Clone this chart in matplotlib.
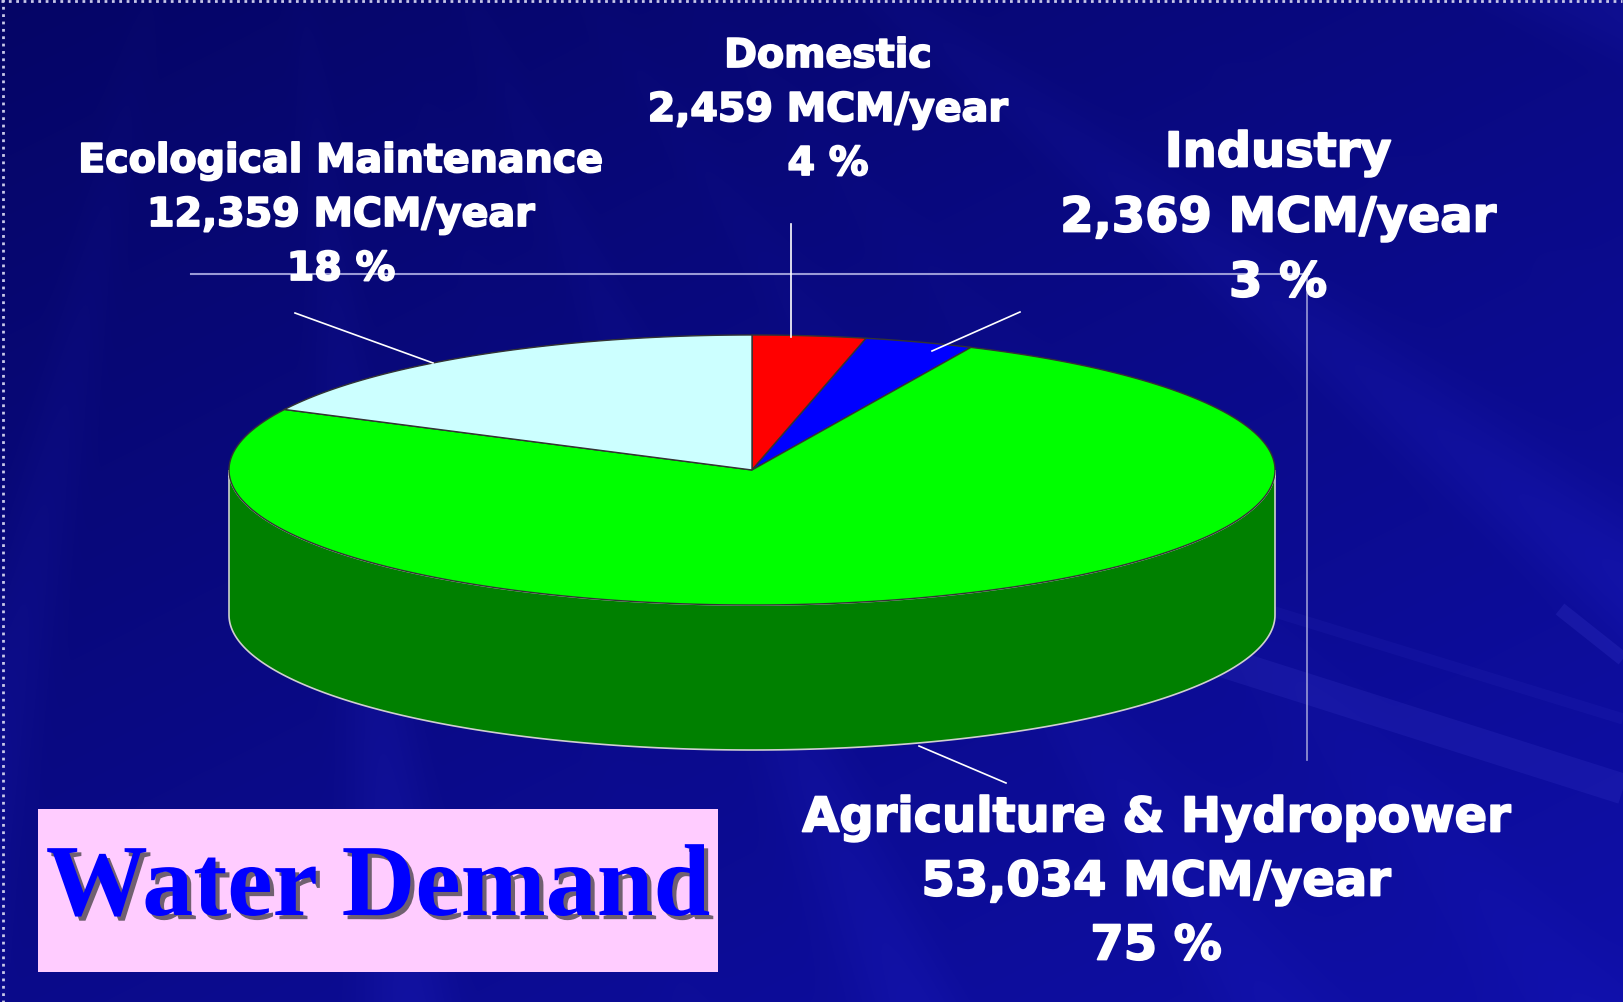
import numpy as np
import matplotlib.pyplot as plt
from matplotlib.patches import Polygon, Rectangle
import matplotlib.patheffects as pe

# water demand by sector, MCM/year (slices run clockwise from 12 o'clock)
categories = ['Domestic', 'Industry', 'Agriculture & Hydropower', 'Ecological Maintenance']
volumes = [2459, 2369, 53034, 12359]
percent_labels = ['4 %', '3 %', '75 %', '18 %']
top_colors = ['#FF0000', '#0000FF', '#00FF00', '#CCFFFF']
side_colors = ['#990000', '#000099', '#008000', '#80A0A0']
title = 'Water Demand'

W, H = 1623, 1003


def background(ax):
    '''
    Dark blue slide background with faint rays
    '''
    yy, xx = np.mgrid[0:H, 0:W].astype(float)
    t = 0.45 * xx / W + 0.55 * yy / H
    ang = np.arctan2(yy + 500, xx - 250)
    rays = np.sin(ang * 31) * np.sin(ang * 9 + 1.3)
    rays = np.clip(rays, 0, None) ** 2
    img = np.zeros((H, W, 3))
    img[..., 0] = 0.02 + 0.04 * t + 0.04 * rays * t
    img[..., 1] = 0.02 + 0.04 * t + 0.04 * rays * t
    img[..., 2] = 0.40 + 0.26 * t + 0.10 * rays * t
    ax.imshow(np.clip(img, 0, 1), extent=(0, W, H, 0), aspect='auto', zorder=0)
    # a few brighter streaks bottom right
    for (x0, y0, x1, y1, w, a) in [(1150, 640, 1623, 790, 22, 0.10),
                                   (1560, 610, 1623, 660, 10, 0.12),
                                   (1200, 590, 1623, 720, 8, 0.06)]:
        ax.plot([x0, x1], [y0, y1], color='#6a6aff', lw=w, alpha=a,
                solid_capstyle='butt', zorder=1)
    # dotted frame of the slide
    ax.plot([1, W - 1], [2, 2], color='#c8c8e8', lw=2, ls=':', zorder=1)
    ax.plot([3, 3], [0, H], color='#c8c8e8', lw=2, ls=':', zorder=1)
    # template guide lines
    ax.plot([191, 1309], [275, 275], color='#9a9ad6', lw=1.5, zorder=1)
    ax.plot([1307, 1307], [275, 761], color='#9a9ad6', lw=1.2, zorder=1)


def pie3d(ax, cx, cy, rx, ry, depth):
    '''
    Tilted pie: side wall first, then the top slices
    '''
    fr = np.cumsum([0] + volumes) / np.sum(volumes)
    a_edges = 90 - 360 * fr

    def pts(a0, a1, dy=0):
        a = np.radians(np.linspace(a0, a1, 200))
        return np.column_stack([cx + rx * np.cos(a), cy - ry * np.sin(a) + dy])

    # front wall, visible between -180 and 0 degrees
    for i in range(len(volumes)):
        hi, lo = a_edges[i], a_edges[i + 1]
        s0, s1 = max(lo, -180), min(hi, 0)
        if s1 > s0:
            top = pts(s1, s0)
            bot = pts(s0, s1, depth)
            ax.add_patch(Polygon(np.vstack([top, bot]), closed=True, fc=side_colors[i],
                                 ec='#d0d0d0', lw=1.2, zorder=3))
    for i in range(len(volumes)):
        arc = pts(a_edges[i], a_edges[i + 1])
        poly = np.vstack([[cx, cy], arc])
        ax.add_patch(Polygon(poly, closed=True, fc=top_colors[i], ec='#333333',
                             lw=1.0, zorder=4))


def main():
    fig = plt.figure(figsize=(W / 100, H / 100), dpi=100)
    ax = fig.add_axes([0, 0, 1, 1])
    ax.set_xlim(0, W)
    ax.set_ylim(H, 0)
    ax.axis('off')

    background(ax)
    pie3d(ax, 752, 471, 523, 135, 145)

    # leader lines
    leaders = [((791, 225), (791, 338)), ((1020, 313), (932, 352)),
               ((1006, 784), (919, 747)), ((295, 314), (433, 364))]
    for (x0, y0), (x1, y1) in leaders:
        ax.plot([x0, x1], [y0, y1], color='white', lw=1.2, zorder=5)

    # label blocks: centre x, first line y, line step, font size
    spots = [(828, 57, 54, 28.5), (1278, 154, 65, 34.5), (1156, 819, 64, 34.5), (341, 162, 54, 28.5)]
    bold = [pe.withStroke(linewidth=1.3, foreground='white')]
    for i, (x, y, step, fs) in enumerate(spots):
        lines = [categories[i], f'{volumes[i]:,} MCM/year', percent_labels[i]]
        for k, s in enumerate(lines):
            ax.text(x, y + k * step, s, color='white', fontsize=fs, fontweight='bold',
                    family='DejaVu Sans', ha='center', va='center', zorder=6,
                    path_effects=bold)

    # title box
    ax.add_patch(Rectangle((38, 810), 680, 163, fc='#FFCCFF', ec='none', zorder=5))
    ax.text(378, 916, title, color='#0000FF', fontsize=73.5, fontweight='bold',
            family='Liberation Serif', ha='center', va='baseline', zorder=6,
            path_effects=[pe.withSimplePatchShadow(offset=(3, -3), shadow_rgbFace='#333333', alpha=0.7)])

    fig.savefig('out.png', dpi=100)


if __name__ == "__main__":
    main()
